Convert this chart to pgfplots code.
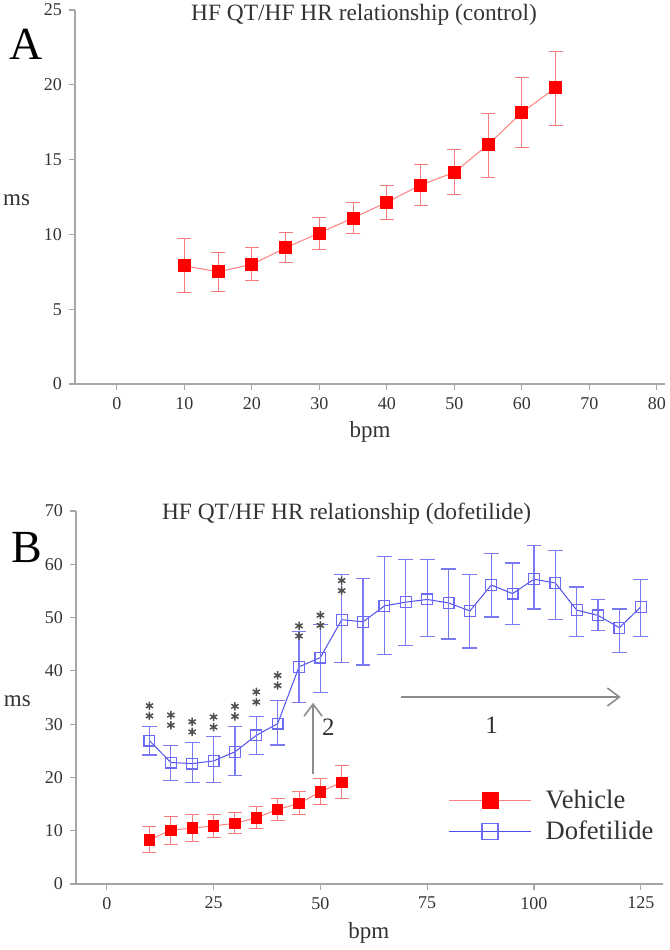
\documentclass[border=0pt]{standalone}
\usepackage{pgfplots}
\pgfplotsset{compat=1.18}
\usepackage{pgfplotstable}
\usepackage{fontspec}
\setmainfont{Liberation Serif}
\usetikzlibrary{arrows.meta}

\definecolor{mkred}{HTML}{FF0000}
\definecolor{lnred}{HTML}{FF8080}
\definecolor{errred}{HTML}{F47C7C}
\definecolor{mkblue}{HTML}{6B6BF5}
\definecolor{lnblue}{HTML}{5050EE}
\definecolor{errblue}{HTML}{7A7AF2}
\definecolor{axgray}{HTML}{A6A6A6}
\definecolor{txtgray}{HTML}{333333}
\definecolor{arrgray}{HTML}{8C8C8C}
\definecolor{starc}{HTML}{505050}

% control: x, mean, err+ , err-
\pgfplotstableread{
x  y     ep   em
10 7.9   1.8  1.8
15 7.5   1.3  1.3
20 8.0   1.15 1.1
25 9.1   1.0  1.0
30 10.1  1.05 1.1
35 11.1  1.0  1.05
40 12.15 1.15 1.15
45 13.3  1.4  1.4
50 14.15 1.5  1.5
55 16.0  2.1  2.2
60 18.15 2.35 2.35
65 19.8  2.4  2.5
}\ctrl

\pgfplotstableread{
x  y    ep   em
10 8.3  2.45 2.4
15 10.1 2.5  2.75
20 10.5 2.5  2.5
25 10.9 2.1  2.1
30 11.4 2.05 1.85
35 12.4 2.1  2.05
40 14.0 2.05 2.1
45 15.1 2.3  2.1
50 17.3 2.45 2.4
55 19.1 3.1  3.05
}\veh

\pgfplotstableread{
x   y     ep   em
10  26.9  2.7  2.7
15  22.8  3.26 3.3
20  22.6  4.0  3.6
25  23.1  4.65 4.1
30  24.8  4.8  4.4
35  27.9  3.5  3.6
40  30.1  4.4  4.0
45  40.75 6.7  6.75
50  42.5  6.2  6.6
55  49.6  8.5  8.1
60  49.2  8.2  8.1
65  52.2  9.3  9.1
70  52.9  8.0  8.1
75  53.4  7.5  7.0
80  52.75 6.35 6.75
85  51.25 6.85 6.95
90  56.1  6.0  6.0
95  54.5  5.75 5.8
100 57.2  6.4  5.6
105 56.5  6.1  6.8
110 51.4  4.35 5.0
115 50.4  3.0  2.8
120 48.1  3.5  4.7
125 52.0  5.2  5.6
}\dof

% significance marks (two stacked asterisks)
\pgfplotstableread{
x  ya    yb
10 33.45 31.55
15 31.7  29.8
20 30.45 28.55
25 31.35 29.45
30 33.35 31.45
35 36.05 34.15
40 39.15 37.25
45 48.45 46.55
50 50.45 48.55
55 56.95 55.05
}\stars

\pgfplotsset{
  panel/.style={
    scale only axis,
    axis x line*=bottom, axis y line*=left,
    axis line style={axgray, line width=0.6pt, -},
    tick align=outside,
    major tick length=3pt,
    tick style={axgray, line width=0.6pt},
    ticklabel style={font=\fontsize{9}{9}\selectfont, text=txtgray},
    /pgf/number format/assume math mode=true,
    ymin=0,
    clip=false,
    every axis title/.style={anchor=base, font=\fontsize{11.7}{12}\selectfont, text=txtgray},
    every axis y label/.style={anchor=base, font=\fontsize{11.5}{12}\selectfont, text=txtgray},
    every axis x label/.style={anchor=base, font=\fontsize{11.5}{12}\selectfont, text=txtgray},
  },
  redser/.style={lnred, line width=0.5pt, mark=square*, mark size=#1,
    mark options={fill=mkred, draw=mkred, line width=0.4pt}},
  blueser/.style={lnblue, line width=0.5pt, mark=square, mark size=#1,
    mark options={draw=mkblue, line width=0.6pt}},
}

\begin{document}
\begin{tikzpicture}
\begin{axis}[panel,
    width=295pt, height=187pt,
    xmin=-6.2, xmax=81.2, ymax=25,
    xtick={0,10,...,80}, ytick={0,5,...,25},
    title={HF QT/HF HR relationship (control)},
    title style={at={(axis description cs:0.49,0.971)}},
    xlabel={bpm}, xlabel style={at={(axis description cs:0.5,-0.144)}},
    ylabel={ms}, ylabel style={at={(axis description cs:-0.099,0.476)}},
]
\node[anchor=base, font=\fontsize{23}{23}\selectfont] at (axis description cs:-0.083,0.869) {A};
\addplot[redser=3pt,
    error bars/.cd, y dir=both, y explicit,
    error bar style={errred, line width=0.5pt},
    error mark options={rotate=90, mark size=3.5pt, errred, line width=0.5pt}]
  table[x=x, y=y, y error plus=ep, y error minus=em] {\ctrl};
\end{axis}

\begin{axis}[panel,
    at={(0.5pt,-250pt)},
    width=293.5pt, height=186.5pt,
    xmin=-7.2, xmax=130.2, ymax=70,
    xtick={0,25,...,125}, ytick={0,10,...,70},
    title={HF QT/HF HR relationship (dofetilide)},
    title style={at={(axis description cs:0.461,0.976)}},
    xlabel={bpm}, xlabel style={at={(axis description cs:0.499,-0.145)}},
    ylabel={ms}, ylabel style={at={(axis description cs:-0.1,0.475)}},
    legend image code/.code={
      \draw[#1, mark=none] (0pt,0pt) -- (41pt,0pt);
      \draw[#1, only marks, mark size=4pt] plot coordinates {(20.5pt,0pt)};
    },
    legend style={at={(axis description cs:0.634,0.26)}, anchor=north west,
      draw=none, fill=none, inner sep=0pt, row sep=2.5pt,
      font=\fontsize{13.3}{14}\selectfont, text=txtgray,
      nodes={inner sep=1pt, text height=9.5pt, text depth=1.5pt},
      /tikz/every odd column/.style={column sep=6pt}},
    legend cell align=left,
]
\node[anchor=base, font=\fontsize{23}{23}\selectfont] at (axis description cs:-0.083,0.863) {B};

\draw[arrgray, line width=0.8pt, -{Straight Barb[length=6pt,width=9pt]}]
  (axis cs:48.3,20.7) -- (axis cs:48.3,34);
\draw[arrgray, line width=0.8pt, -{Straight Barb[length=6pt,width=9pt]}]
  (axis cs:68.8,35.1) -- (axis cs:120.3,35.1);
\node[font=\fontsize{12.5}{13}\selectfont, text=txtgray] at (axis cs:51.9,29.5) {2};
\node[font=\fontsize{12.5}{13}\selectfont, text=txtgray] at (axis cs:90.1,29.8) {1};

\addlegendimage{redser=2.6pt}
\addlegendentry{Vehicle}
\addlegendimage{blueser=2.7pt}
\addlegendentry{Dofetilide}

\addplot[blueser=2.7pt, forget plot,
    error bars/.cd, y dir=both, y explicit,
    error bar style={errblue, line width=0.6pt},
    error mark options={rotate=90, mark size=3.7pt, errblue, line width=0.6pt}]
  table[x=x, y=y, y error plus=ep, y error minus=em] {\dof};
\addplot[redser=2.6pt, forget plot,
    error bars/.cd, y dir=both, y explicit,
    error bar style={errred, line width=0.5pt},
    error mark options={rotate=90, mark size=3.5pt, errred, line width=0.5pt}]
  table[x=x, y=y, y error plus=ep, y error minus=em] {\veh};

\addplot[only marks, mark=asterisk, mark size=2.1pt, starc, line width=0.75pt, forget plot]
  table[x=x, y=ya] {\stars};
\addplot[only marks, mark=asterisk, mark size=2.1pt, starc, line width=0.75pt, forget plot]
  table[x=x, y=yb] {\stars};
\end{axis}

\pgfresetboundingbox
\path[use as bounding box] (-37.5pt,-283pt) rectangle (297.5pt,192pt);
\end{tikzpicture}
\end{document}
